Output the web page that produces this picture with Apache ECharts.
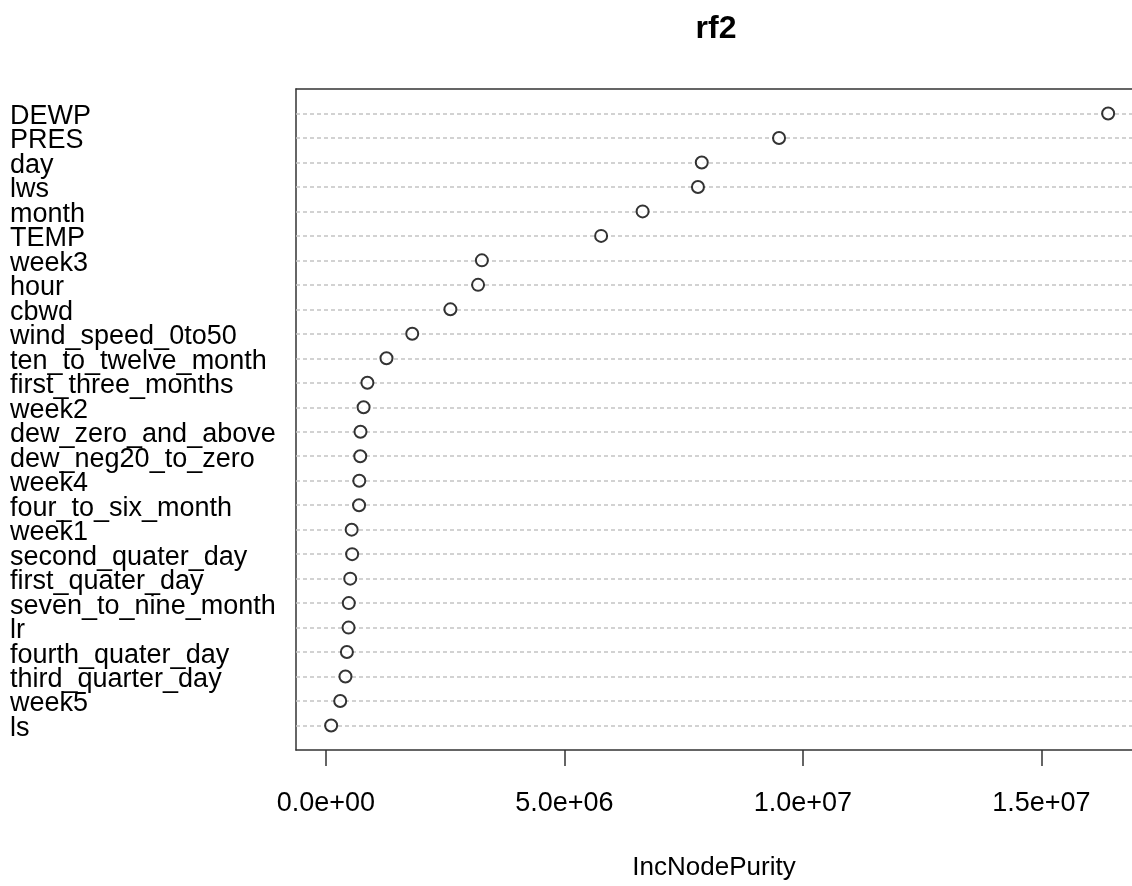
<!DOCTYPE html>
<html>
<head>
<meta charset="utf-8">
<script src="https://cdn.jsdelivr.net/npm/echarts@6/dist/echarts.min.js"></script>
<style>
  html, body { margin: 0; padding: 0; background: #fff; }
  #chart { width: 1132px; height: 886px; }
</style>
</head>
<body>
<div id="chart"></div>
<script>
// variables, top to bottom as in the plot
const varNames = [
  'DEWP', 'PRES', 'day', 'lws', 'month', 'TEMP', 'week3', 'hour', 'cbwd',
  'wind_speed_0to50', 'ten_to_twelve_month', 'first_three_months', 'week2',
  'dew_zero_and_above', 'dew_neg20_to_zero', 'week4', 'four_to_six_month',
  'week1', 'second_quater_day', 'first_quater_day', 'seven_to_nine_month',
  'lr', 'fourth_quater_day', 'third_quarter_day', 'week5', 'ls'
];
// IncNodePurity
const incNodePurity = [
  16.40e6, 9.50e6, 7.88e6, 7.80e6, 6.64e6, 5.77e6, 3.27e6, 3.19e6, 2.61e6,
  1.81e6, 1.27e6, 0.87e6, 0.79e6,
  0.725e6, 0.72e6, 0.70e6, 0.695e6,
  0.54e6, 0.55e6, 0.51e6, 0.48e6,
  0.475e6, 0.44e6, 0.41e6, 0.30e6, 0.11e6
];
const xTickValues = [0, 5e6, 1e7, 1.5e7];
const xTickLabels = ['0.0e+00', '5.0e+06', '1.0e+07', '1.5e+07'];

// R pads the row range by one empty slot at each end
const yCats = [' '].concat(varNames.slice().reverse(), ['  ']);
const points = incNodePurity.map((v, i) => [v, varNames[i]]);

const font = '"Liberation Sans", Arial, sans-serif';
const boxLine = { show: true, onZero: false, lineStyle: { color: '#333', width: 1.5 } };
const chart = echarts.init(document.getElementById('chart'));

chart.setOption({
  animation: false,
  backgroundColor: '#fff',
  title: {
    text: 'rf2',
    left: 711,
    textAlign: 'center',
    top: 8,
    textStyle: { fontFamily: font, fontSize: 32, fontWeight: 'bold', color: '#000' }
  },
  grid: { left: 296, top: 89, width: 839, height: 661 },
  xAxis: [{
    type: 'value',
    min: -0.627e6,
    max: 16.9e6,
    name: 'IncNodePurity',
    nameLocation: 'middle',
    nameGap: 105,
    nameTextStyle: { fontFamily: font, fontSize: 26, color: '#000' },
    axisLine: boxLine,
    splitLine: { show: false },
    axisTick: {
      show: true, length: 16, customValues: xTickValues,
      lineStyle: { color: '#333', width: 1.5 }
    },
    axisLabel: {
      customValues: xTickValues,
      margin: 40,
      fontFamily: font, fontSize: 27, color: '#000',
      formatter: v => xTickLabels[xTickValues.indexOf(v)] || ''
    }
  }, {
    // top edge of the box
    type: 'value',
    position: 'top',
    min: -0.627e6,
    max: 16.9e6,
    axisLine: boxLine,
    axisTick: { show: false },
    axisLabel: { show: false },
    splitLine: { show: false }
  }],
  yAxis: {
    type: 'category',
    data: yCats,
    boundaryGap: false,
    axisLine: boxLine,
    axisTick: { show: false },
    splitLine: { show: false },
    axisLabel: {
      interval: 0,
      align: 'left',
      verticalAlign: 'top',
      lineHeight: 6,
      margin: 286,
      fontFamily: font, fontSize: 27, color: '#000'
    }
  },
  series: [{
    type: 'scatter',
    data: points,
    symbol: 'circle',
    symbolSize: 12,
    itemStyle: { color: '#fff', borderColor: '#000', borderWidth: 2 },
    markLine: {
      silent: true,
      symbol: 'none',
      label: { show: false },
      lineStyle: { color: '#c4c4c4', type: [4, 3], width: 1.5 },
      data: varNames.map(name => ({ yAxis: name })),
      z: 1
    },
    z: 3
  }]
});
</script>
</body>
</html>
